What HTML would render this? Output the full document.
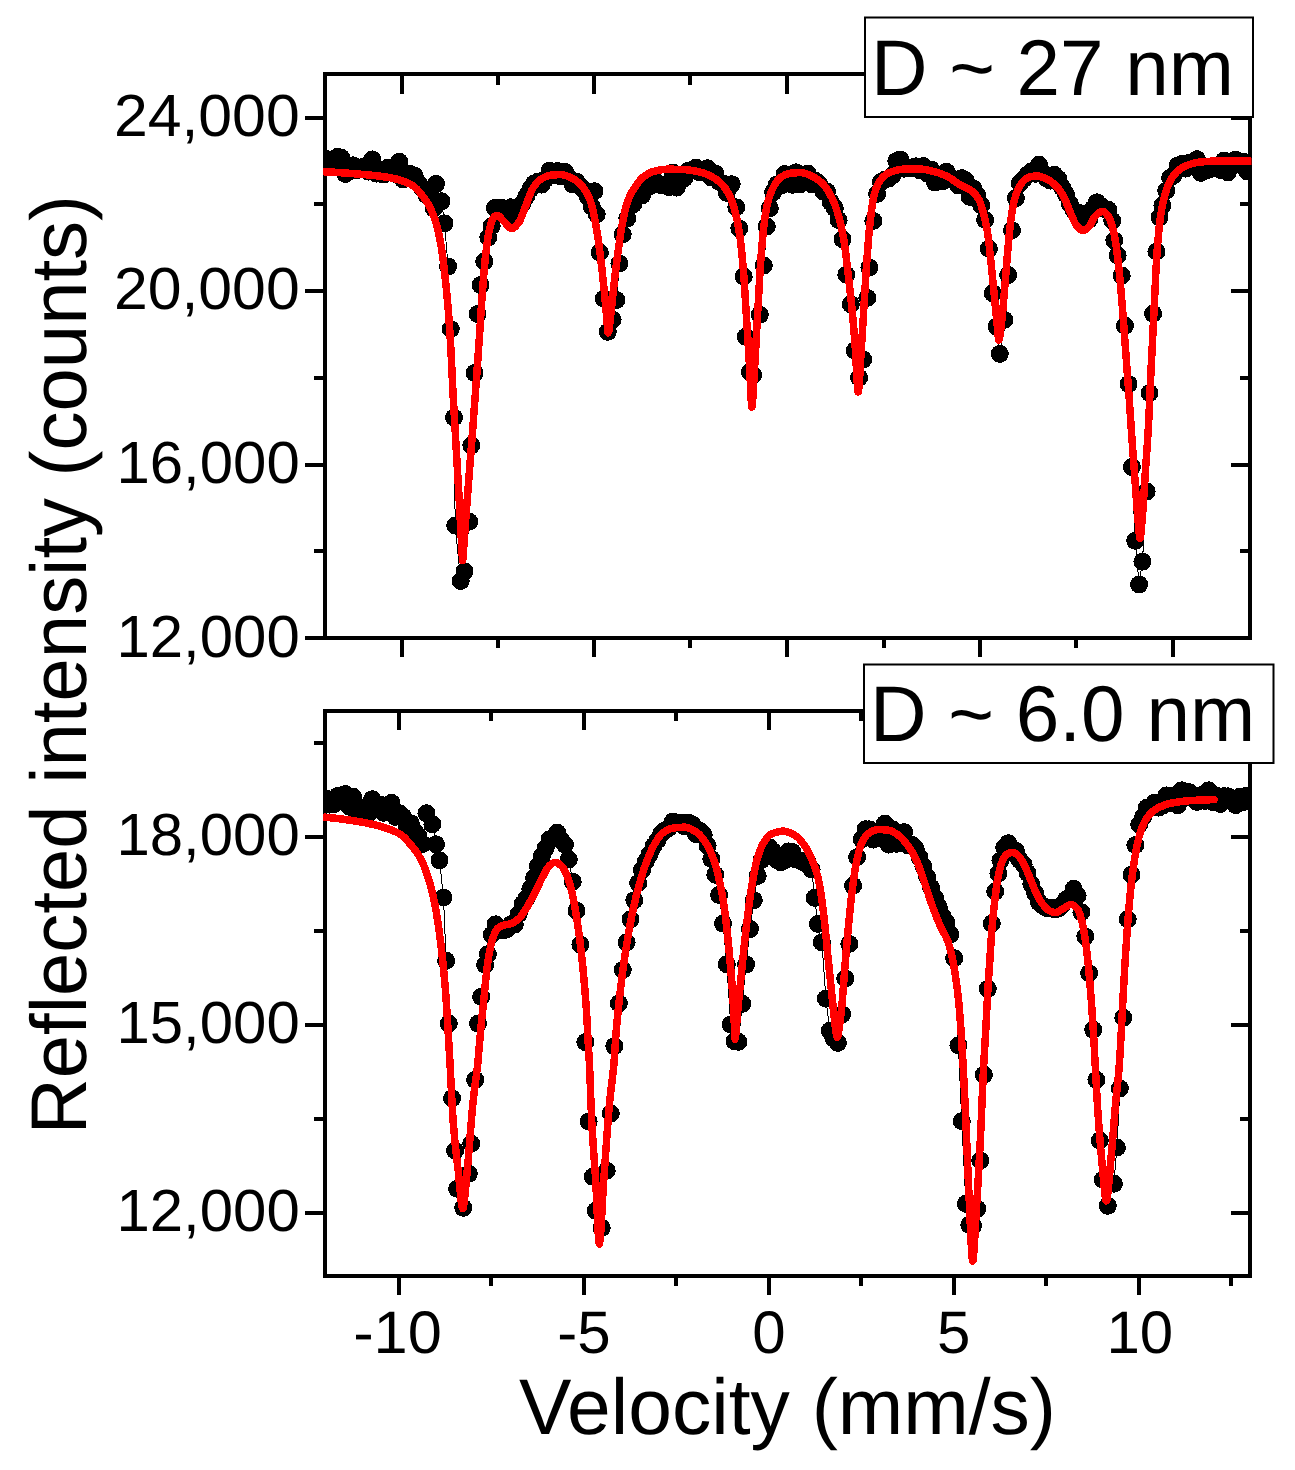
<!DOCTYPE html>
<html lang="en"><head><meta charset="utf-8"><title>Mossbauer spectra</title>
<style>html,body{margin:0;padding:0;background:#fff}svg{display:block}text{text-rendering:geometricPrecision}</style></head>
<body>
<svg width="1295" height="1470" viewBox="0 0 1295 1470" font-family="'Liberation Sans', sans-serif" fill="#000">
<rect width="1295" height="1470" fill="#fff"/>
<defs><clipPath id="cl-top"><rect x="323" y="72" width="928.5" height="568"/></clipPath><clipPath id="cl-bot"><rect x="323" y="709" width="928.5" height="569"/></clipPath></defs>
<g stroke="#000" stroke-width="4" fill="none" stroke-linecap="butt" shape-rendering="crispEdges">
<path d="M325,72 V640 M1250,72 V640 M323,74 H1252 M305,638 H1252"/>
<path d="M325,709 V1278 M1250,709 V1278 M323,711 H1252 M323,1276 H1252"/>
<path d="M402,74 V94 M402,638 V657 M594,74 V94 M594,638 V657 M787,74 V94 M787,638 V657 M980,74 V94 M980,638 V657 M1173,74 V94 M1173,638 V657 M498,74 V85 M498,638 V648 M690,74 V85 M690,638 V648 M884,74 V85 M884,638 V648 M1076,74 V85 M1076,638 V648 M305,118 H325 M1231,118 H1250 M305,291 H325 M1231,291 H1250 M305,465 H325 M1231,465 H1250 M314,204 H325 M1240,204 H1250 M314,378 H325 M1240,378 H1250 M314,551 H325 M1240,551 H1250"/>
<path d="M399,711 V730 M399,1276 V1295 M584,711 V730 M584,1276 V1295 M769,711 V730 M769,1276 V1295 M954,711 V730 M954,1276 V1295 M1139,711 V730 M1139,1276 V1295 M491,711 V721 M491,1276 V1286 M676,711 V721 M676,1276 V1286 M861,711 V721 M861,1276 V1286 M1046,711 V721 M1046,1276 V1286 M1231,711 V721 M1231,1276 V1286 M305,837 H325 M1231,837 H1250 M305,1025 H325 M1231,1025 H1250 M305,1213 H325 M1231,1213 H1250 M314,743 H325 M1240,743 H1250 M314,931 H325 M1240,931 H1250 M314,1119 H325 M1240,1119 H1250"/>
</g>
<g id="data-top" clip-path="url(#cl-top)" shape-rendering="crispEdges">
<path d="M326.0,159.0 L329.9,162.1 L333.7,163.7 L337.6,156.9 L341.4,157.9 L345.3,174.0 L349.1,171.2 L353.0,165.4 L356.8,170.3 L360.7,167.5 L364.5,166.3 L368.4,171.6 L372.2,159.4 L376.1,173.6 L380.0,173.7 L383.8,174.4 L387.7,167.9 L391.5,170.3 L395.4,174.0 L399.2,161.8 L403.1,179.5 L406.9,173.9 L410.8,174.1 L414.6,175.7 L418.5,183.3 L422.4,188.5 L426.2,194.7 L430.1,198.1 L433.9,208.5 L436.0,184.0 L441.5,201.3 L444.5,223.4 L448.1,266.5 L450.8,329.0 L454.0,417.5 L455.2,525.6 L460.7,581.0 L464.5,571.4 L469.2,521.6 L471.3,445.4 L474.6,373.0 L477.6,314.0 L480.6,285.0 L484.3,261.5 L488.3,237.4 L491.7,226.0 L494.9,208.0 L499.4,208.0 L503.3,208.1 L507.1,213.1 L511.0,207.3 L514.9,217.7 L518.7,207.9 L522.6,203.4 L526.4,196.1 L530.3,189.1 L534.1,183.5 L538.0,181.5 L541.8,184.6 L545.7,178.8 L549.5,170.7 L553.4,175.0 L557.2,171.0 L561.1,176.5 L565.0,172.0 L568.8,177.7 L572.7,184.4 L576.5,181.5 L580.4,186.6 L584.2,189.9 L588.1,197.4 L591.9,206.8 L594.5,191.2 L596.7,214.3 L599.8,252.5 L603.8,298.7 L607.8,331.8 L612.6,319.8 L616.5,300.0 L619.4,263.5 L622.7,234.4 L627.3,218.4 L633.3,204.3 L638.2,192.6 L642.0,195.5 L645.9,187.1 L649.8,186.1 L653.6,178.7 L657.5,184.1 L661.3,185.2 L665.2,184.9 L669.0,187.1 L672.9,172.7 L676.7,187.6 L680.6,177.7 L684.4,178.2 L688.3,170.7 L692.1,170.2 L696.0,167.5 L699.9,172.5 L703.7,172.7 L707.6,168.2 L711.4,177.5 L715.3,173.6 L719.1,181.9 L723.0,183.6 L726.8,192.9 L731.7,184.2 L736.3,207.3 L739.3,228.4 L743.7,276.6 L745.7,336.8 L750.0,372.0 L753.2,375.0 L759.8,314.7 L763.8,265.5 L766.8,226.4 L769.8,208.3 L773.1,192.3 L776.9,184.4 L780.8,185.8 L784.6,174.1 L788.5,177.4 L792.4,184.8 L796.2,172.3 L800.1,184.2 L803.9,182.5 L807.8,173.6 L811.6,184.2 L815.5,180.8 L819.3,184.3 L823.2,191.4 L827.0,191.5 L830.9,202.3 L834.8,208.3 L838.6,220.1 L842.5,239.2 L846.3,274.7 L850.8,304.2 L854.8,350.6 L859.1,377.6 L863.2,359.5 L867.3,297.9 L869.4,267.5 L873.3,220.9 L877.1,193.9 L881.0,182.1 L884.9,179.6 L888.7,178.6 L892.6,175.2 L896.4,161.0 L900.3,159.5 L904.1,168.7 L908.0,167.7 L911.8,168.5 L915.7,166.3 L919.5,170.2 L923.4,166.1 L927.2,173.5 L931.1,169.5 L935.0,182.6 L938.8,179.0 L942.7,181.3 L946.5,171.8 L950.4,177.4 L954.2,181.0 L958.1,185.3 L961.9,178.2 L965.8,180.4 L969.6,196.9 L973.5,188.6 L977.4,195.6 L981.2,205.3 L985.1,219.9 L988.9,248.7 L992.8,293.2 L996.6,326.6 L999.8,353.9 L1004.3,319.9 L1008.2,275.0 L1012.0,230.2 L1015.9,198.2 L1019.8,183.5 L1023.6,179.1 L1027.5,174.8 L1031.3,171.5 L1035.2,173.8 L1039.0,164.8 L1042.9,173.0 L1046.7,178.6 L1050.6,180.6 L1054.4,174.8 L1058.3,178.7 L1062.1,187.5 L1066.0,194.4 L1069.9,203.7 L1073.7,210.3 L1077.6,212.2 L1081.4,222.5 L1085.3,213.6 L1089.1,219.6 L1093.0,208.6 L1096.8,202.3 L1100.7,205.8 L1104.5,209.0 L1108.4,209.9 L1112.2,220.6 L1114.3,240.4 L1117.7,255.5 L1121.7,275.6 L1125.0,325.8 L1128.6,384.0 L1131.9,467.0 L1135.2,540.8 L1139.1,584.5 L1142.4,561.7 L1146.6,491.5 L1149.5,393.0 L1153.1,313.7 L1156.5,251.5 L1159.5,217.3 L1162.4,205.4 L1166.2,190.7 L1170.1,177.8 L1173.9,175.0 L1177.8,165.5 L1181.6,164.1 L1185.5,168.6 L1189.3,162.9 L1193.2,162.6 L1197.0,159.2 L1200.9,172.9 L1204.8,167.8 L1208.6,169.8 L1212.5,168.2 L1216.3,165.9 L1220.2,169.9 L1224.0,160.5 L1227.9,172.3 L1231.7,166.0 L1235.6,159.7 L1239.4,161.6 L1243.3,161.7 L1247.1,171.4 L1251.0,164.0" fill="none" stroke="#000" stroke-width="1"/>
<g><circle cx="326.0" cy="159.0" r="9"/><circle cx="329.9" cy="162.1" r="9"/><circle cx="333.7" cy="163.7" r="9"/><circle cx="337.6" cy="156.9" r="9"/><circle cx="341.4" cy="157.9" r="9"/><circle cx="345.3" cy="174.0" r="9"/><circle cx="349.1" cy="171.2" r="9"/><circle cx="353.0" cy="165.4" r="9"/><circle cx="356.8" cy="170.3" r="9"/><circle cx="360.7" cy="167.5" r="9"/><circle cx="364.5" cy="166.3" r="9"/><circle cx="368.4" cy="171.6" r="9"/><circle cx="372.2" cy="159.4" r="9"/><circle cx="376.1" cy="173.6" r="9"/><circle cx="380.0" cy="173.7" r="9"/><circle cx="383.8" cy="174.4" r="9"/><circle cx="387.7" cy="167.9" r="9"/><circle cx="391.5" cy="170.3" r="9"/><circle cx="395.4" cy="174.0" r="9"/><circle cx="399.2" cy="161.8" r="9"/><circle cx="403.1" cy="179.5" r="9"/><circle cx="406.9" cy="173.9" r="9"/><circle cx="410.8" cy="174.1" r="9"/><circle cx="414.6" cy="175.7" r="9"/><circle cx="418.5" cy="183.3" r="9"/><circle cx="422.4" cy="188.5" r="9"/><circle cx="426.2" cy="194.7" r="9"/><circle cx="430.1" cy="198.1" r="9"/><circle cx="433.9" cy="208.5" r="9"/><circle cx="436.0" cy="184.0" r="9"/><circle cx="441.5" cy="201.3" r="9"/><circle cx="444.5" cy="223.4" r="9"/><circle cx="448.1" cy="266.5" r="9"/><circle cx="450.8" cy="329.0" r="9"/><circle cx="454.0" cy="417.5" r="9"/><circle cx="455.2" cy="525.6" r="9"/><circle cx="460.7" cy="581.0" r="9"/><circle cx="464.5" cy="571.4" r="9"/><circle cx="469.2" cy="521.6" r="9"/><circle cx="471.3" cy="445.4" r="9"/><circle cx="474.6" cy="373.0" r="9"/><circle cx="477.6" cy="314.0" r="9"/><circle cx="480.6" cy="285.0" r="9"/><circle cx="484.3" cy="261.5" r="9"/><circle cx="488.3" cy="237.4" r="9"/><circle cx="491.7" cy="226.0" r="9"/><circle cx="494.9" cy="208.0" r="9"/><circle cx="499.4" cy="208.0" r="9"/><circle cx="503.3" cy="208.1" r="9"/><circle cx="507.1" cy="213.1" r="9"/><circle cx="511.0" cy="207.3" r="9"/><circle cx="514.9" cy="217.7" r="9"/><circle cx="518.7" cy="207.9" r="9"/><circle cx="522.6" cy="203.4" r="9"/><circle cx="526.4" cy="196.1" r="9"/><circle cx="530.3" cy="189.1" r="9"/><circle cx="534.1" cy="183.5" r="9"/><circle cx="538.0" cy="181.5" r="9"/><circle cx="541.8" cy="184.6" r="9"/><circle cx="545.7" cy="178.8" r="9"/><circle cx="549.5" cy="170.7" r="9"/><circle cx="553.4" cy="175.0" r="9"/><circle cx="557.2" cy="171.0" r="9"/><circle cx="561.1" cy="176.5" r="9"/><circle cx="565.0" cy="172.0" r="9"/><circle cx="568.8" cy="177.7" r="9"/><circle cx="572.7" cy="184.4" r="9"/><circle cx="576.5" cy="181.5" r="9"/><circle cx="580.4" cy="186.6" r="9"/><circle cx="584.2" cy="189.9" r="9"/><circle cx="588.1" cy="197.4" r="9"/><circle cx="591.9" cy="206.8" r="9"/><circle cx="594.5" cy="191.2" r="9"/><circle cx="596.7" cy="214.3" r="9"/><circle cx="599.8" cy="252.5" r="9"/><circle cx="603.8" cy="298.7" r="9"/><circle cx="607.8" cy="331.8" r="9"/><circle cx="612.6" cy="319.8" r="9"/><circle cx="616.5" cy="300.0" r="9"/><circle cx="619.4" cy="263.5" r="9"/><circle cx="622.7" cy="234.4" r="9"/><circle cx="627.3" cy="218.4" r="9"/><circle cx="633.3" cy="204.3" r="9"/><circle cx="638.2" cy="192.6" r="9"/><circle cx="642.0" cy="195.5" r="9"/><circle cx="645.9" cy="187.1" r="9"/><circle cx="649.8" cy="186.1" r="9"/><circle cx="653.6" cy="178.7" r="9"/><circle cx="657.5" cy="184.1" r="9"/><circle cx="661.3" cy="185.2" r="9"/><circle cx="665.2" cy="184.9" r="9"/><circle cx="669.0" cy="187.1" r="9"/><circle cx="672.9" cy="172.7" r="9"/><circle cx="676.7" cy="187.6" r="9"/><circle cx="680.6" cy="177.7" r="9"/><circle cx="684.4" cy="178.2" r="9"/><circle cx="688.3" cy="170.7" r="9"/><circle cx="692.1" cy="170.2" r="9"/><circle cx="696.0" cy="167.5" r="9"/><circle cx="699.9" cy="172.5" r="9"/><circle cx="703.7" cy="172.7" r="9"/><circle cx="707.6" cy="168.2" r="9"/><circle cx="711.4" cy="177.5" r="9"/><circle cx="715.3" cy="173.6" r="9"/><circle cx="719.1" cy="181.9" r="9"/><circle cx="723.0" cy="183.6" r="9"/><circle cx="726.8" cy="192.9" r="9"/><circle cx="731.7" cy="184.2" r="9"/><circle cx="736.3" cy="207.3" r="9"/><circle cx="739.3" cy="228.4" r="9"/><circle cx="743.7" cy="276.6" r="9"/><circle cx="745.7" cy="336.8" r="9"/><circle cx="750.0" cy="372.0" r="9"/><circle cx="753.2" cy="375.0" r="9"/><circle cx="759.8" cy="314.7" r="9"/><circle cx="763.8" cy="265.5" r="9"/><circle cx="766.8" cy="226.4" r="9"/><circle cx="769.8" cy="208.3" r="9"/><circle cx="773.1" cy="192.3" r="9"/><circle cx="776.9" cy="184.4" r="9"/><circle cx="780.8" cy="185.8" r="9"/><circle cx="784.6" cy="174.1" r="9"/><circle cx="788.5" cy="177.4" r="9"/><circle cx="792.4" cy="184.8" r="9"/><circle cx="796.2" cy="172.3" r="9"/><circle cx="800.1" cy="184.2" r="9"/><circle cx="803.9" cy="182.5" r="9"/><circle cx="807.8" cy="173.6" r="9"/><circle cx="811.6" cy="184.2" r="9"/><circle cx="815.5" cy="180.8" r="9"/><circle cx="819.3" cy="184.3" r="9"/><circle cx="823.2" cy="191.4" r="9"/><circle cx="827.0" cy="191.5" r="9"/><circle cx="830.9" cy="202.3" r="9"/><circle cx="834.8" cy="208.3" r="9"/><circle cx="838.6" cy="220.1" r="9"/><circle cx="842.5" cy="239.2" r="9"/><circle cx="846.3" cy="274.7" r="9"/><circle cx="850.8" cy="304.2" r="9"/><circle cx="854.8" cy="350.6" r="9"/><circle cx="859.1" cy="377.6" r="9"/><circle cx="863.2" cy="359.5" r="9"/><circle cx="867.3" cy="297.9" r="9"/><circle cx="869.4" cy="267.5" r="9"/><circle cx="873.3" cy="220.9" r="9"/><circle cx="877.1" cy="193.9" r="9"/><circle cx="881.0" cy="182.1" r="9"/><circle cx="884.9" cy="179.6" r="9"/><circle cx="888.7" cy="178.6" r="9"/><circle cx="892.6" cy="175.2" r="9"/><circle cx="896.4" cy="161.0" r="9"/><circle cx="900.3" cy="159.5" r="9"/><circle cx="904.1" cy="168.7" r="9"/><circle cx="908.0" cy="167.7" r="9"/><circle cx="911.8" cy="168.5" r="9"/><circle cx="915.7" cy="166.3" r="9"/><circle cx="919.5" cy="170.2" r="9"/><circle cx="923.4" cy="166.1" r="9"/><circle cx="927.2" cy="173.5" r="9"/><circle cx="931.1" cy="169.5" r="9"/><circle cx="935.0" cy="182.6" r="9"/><circle cx="938.8" cy="179.0" r="9"/><circle cx="942.7" cy="181.3" r="9"/><circle cx="946.5" cy="171.8" r="9"/><circle cx="950.4" cy="177.4" r="9"/><circle cx="954.2" cy="181.0" r="9"/><circle cx="958.1" cy="185.3" r="9"/><circle cx="961.9" cy="178.2" r="9"/><circle cx="965.8" cy="180.4" r="9"/><circle cx="969.6" cy="196.9" r="9"/><circle cx="973.5" cy="188.6" r="9"/><circle cx="977.4" cy="195.6" r="9"/><circle cx="981.2" cy="205.3" r="9"/><circle cx="985.1" cy="219.9" r="9"/><circle cx="988.9" cy="248.7" r="9"/><circle cx="992.8" cy="293.2" r="9"/><circle cx="996.6" cy="326.6" r="9"/><circle cx="999.8" cy="353.9" r="9"/><circle cx="1004.3" cy="319.9" r="9"/><circle cx="1008.2" cy="275.0" r="9"/><circle cx="1012.0" cy="230.2" r="9"/><circle cx="1015.9" cy="198.2" r="9"/><circle cx="1019.8" cy="183.5" r="9"/><circle cx="1023.6" cy="179.1" r="9"/><circle cx="1027.5" cy="174.8" r="9"/><circle cx="1031.3" cy="171.5" r="9"/><circle cx="1035.2" cy="173.8" r="9"/><circle cx="1039.0" cy="164.8" r="9"/><circle cx="1042.9" cy="173.0" r="9"/><circle cx="1046.7" cy="178.6" r="9"/><circle cx="1050.6" cy="180.6" r="9"/><circle cx="1054.4" cy="174.8" r="9"/><circle cx="1058.3" cy="178.7" r="9"/><circle cx="1062.1" cy="187.5" r="9"/><circle cx="1066.0" cy="194.4" r="9"/><circle cx="1069.9" cy="203.7" r="9"/><circle cx="1073.7" cy="210.3" r="9"/><circle cx="1077.6" cy="212.2" r="9"/><circle cx="1081.4" cy="222.5" r="9"/><circle cx="1085.3" cy="213.6" r="9"/><circle cx="1089.1" cy="219.6" r="9"/><circle cx="1093.0" cy="208.6" r="9"/><circle cx="1096.8" cy="202.3" r="9"/><circle cx="1100.7" cy="205.8" r="9"/><circle cx="1104.5" cy="209.0" r="9"/><circle cx="1108.4" cy="209.9" r="9"/><circle cx="1112.2" cy="220.6" r="9"/><circle cx="1114.3" cy="240.4" r="9"/><circle cx="1117.7" cy="255.5" r="9"/><circle cx="1121.7" cy="275.6" r="9"/><circle cx="1125.0" cy="325.8" r="9"/><circle cx="1128.6" cy="384.0" r="9"/><circle cx="1131.9" cy="467.0" r="9"/><circle cx="1135.2" cy="540.8" r="9"/><circle cx="1139.1" cy="584.5" r="9"/><circle cx="1142.4" cy="561.7" r="9"/><circle cx="1146.6" cy="491.5" r="9"/><circle cx="1149.5" cy="393.0" r="9"/><circle cx="1153.1" cy="313.7" r="9"/><circle cx="1156.5" cy="251.5" r="9"/><circle cx="1159.5" cy="217.3" r="9"/><circle cx="1162.4" cy="205.4" r="9"/><circle cx="1166.2" cy="190.7" r="9"/><circle cx="1170.1" cy="177.8" r="9"/><circle cx="1173.9" cy="175.0" r="9"/><circle cx="1177.8" cy="165.5" r="9"/><circle cx="1181.6" cy="164.1" r="9"/><circle cx="1185.5" cy="168.6" r="9"/><circle cx="1189.3" cy="162.9" r="9"/><circle cx="1193.2" cy="162.6" r="9"/><circle cx="1197.0" cy="159.2" r="9"/><circle cx="1200.9" cy="172.9" r="9"/><circle cx="1204.8" cy="167.8" r="9"/><circle cx="1208.6" cy="169.8" r="9"/><circle cx="1212.5" cy="168.2" r="9"/><circle cx="1216.3" cy="165.9" r="9"/><circle cx="1220.2" cy="169.9" r="9"/><circle cx="1224.0" cy="160.5" r="9"/><circle cx="1227.9" cy="172.3" r="9"/><circle cx="1231.7" cy="166.0" r="9"/><circle cx="1235.6" cy="159.7" r="9"/><circle cx="1239.4" cy="161.6" r="9"/><circle cx="1243.3" cy="161.7" r="9"/><circle cx="1247.1" cy="171.4" r="9"/><circle cx="1251.0" cy="164.0" r="9"/></g>
<path d="M325.0,171.8 L326.0,171.8 L327.0,171.9 L328.0,171.9 L329.0,172.0 L330.0,172.0 L331.0,172.1 L332.0,172.1 L333.0,172.2 L334.0,172.2 L335.0,172.3 L336.0,172.4 L337.0,172.4 L338.0,172.5 L339.0,172.5 L340.0,172.6 L341.0,172.7 L342.0,172.8 L343.0,172.8 L344.0,172.9 L345.0,173.0 L346.0,173.0 L347.0,173.1 L348.0,173.2 L349.0,173.3 L350.0,173.3 L351.0,173.4 L352.0,173.5 L353.0,173.6 L354.0,173.7 L355.0,173.8 L356.0,173.8 L357.0,173.9 L358.0,174.0 L359.0,174.1 L360.0,174.2 L360.2,174.2 L361.0,174.3 L362.0,174.4 L363.0,174.4 L364.0,174.5 L365.0,174.6 L366.0,174.7 L367.0,174.8 L368.0,174.9 L369.0,175.0 L370.0,175.1 L371.0,175.2 L372.0,175.3 L373.0,175.4 L374.0,175.5 L375.0,175.6 L376.0,175.7 L377.0,175.9 L378.0,176.0 L379.0,176.1 L380.0,176.2 L381.0,176.4 L382.0,176.5 L383.0,176.6 L384.0,176.8 L385.0,176.9 L386.0,177.1 L387.0,177.2 L388.0,177.4 L389.0,177.6 L390.0,177.7 L390.3,177.8 L391.0,177.9 L392.0,178.1 L393.0,178.3 L394.0,178.5 L395.0,178.8 L396.0,179.0 L397.0,179.2 L398.0,179.5 L399.0,179.8 L400.0,180.1 L401.0,180.4 L402.0,180.7 L403.0,181.1 L404.0,181.4 L405.0,181.8 L406.0,182.2 L407.0,182.6 L408.0,183.1 L409.0,183.5 L410.0,184.0 L410.4,184.2 L411.0,184.5 L412.0,185.1 L413.0,185.8 L414.0,186.6 L415.0,187.4 L416.0,188.3 L417.0,189.3 L418.0,190.4 L419.0,191.5 L420.0,192.7 L421.0,193.9 L422.0,195.1 L423.0,196.4 L424.0,197.8 L424.4,198.3 L425.0,199.1 L426.0,200.6 L427.0,202.2 L428.0,203.9 L429.0,205.7 L430.0,207.7 L431.0,209.8 L432.0,212.1 L433.0,214.5 L434.0,217.1 L434.5,218.4 L435.0,219.8 L436.0,223.0 L437.0,226.5 L438.0,230.5 L439.0,234.9 L440.0,239.8 L440.5,242.4 L441.0,245.2 L442.0,251.6 L443.0,259.0 L444.0,267.2 L445.0,276.0 L445.5,280.6 L446.0,285.4 L447.0,295.6 L448.0,306.9 L449.0,319.6 L449.8,330.8 L450.0,333.8 L451.0,351.7 L452.0,372.1 L453.0,392.5 L453.4,400.0 L454.0,410.7 L455.0,427.9 L456.0,444.9 L456.3,450.0 L457.0,462.0 L458.0,479.1 L459.0,496.5 L459.2,500.0 L460.0,514.5 L461.0,532.9 L461.4,540.0 L462.0,552.9 L462.6,560.5 L463.0,558.3 L464.0,542.9 L464.2,540.0 L465.0,529.4 L466.0,516.0 L467.0,502.6 L467.2,500.0 L468.0,489.6 L469.0,476.9 L470.0,464.1 L471.0,451.3 L471.1,450.0 L472.0,438.3 L473.0,425.3 L474.0,412.1 L474.9,400.0 L475.0,398.6 L476.0,385.0 L477.0,371.2 L478.0,357.2 L479.0,342.9 L479.2,340.0 L480.0,327.8 L481.0,312.1 L482.0,297.4 L482.2,294.7 L483.0,284.3 L484.0,272.0 L485.0,261.0 L485.7,254.5 L486.0,252.0 L487.0,244.2 L488.0,237.3 L489.0,231.8 L489.3,230.4 L490.0,227.4 L491.0,223.5 L492.0,220.4 L493.0,218.4 L494.0,217.2 L495.0,216.2 L496.0,215.5 L496.9,215.3 L497.0,215.3 L498.0,215.6 L499.0,216.2 L500.0,217.1 L501.0,218.2 L502.0,219.4 L503.0,220.6 L504.0,221.7 L504.7,222.4 L505.0,222.7 L506.0,223.7 L507.0,224.8 L508.0,225.9 L509.0,226.9 L510.0,227.7 L511.0,228.3 L511.8,228.4 L512.0,228.4 L513.0,228.1 L514.0,227.6 L515.0,226.8 L516.0,225.8 L517.0,224.6 L518.0,223.4 L518.8,222.4 L519.0,222.1 L520.0,220.4 L521.0,218.2 L522.0,215.7 L523.0,213.0 L524.0,210.3 L524.8,208.3 L525.0,207.8 L526.0,205.2 L527.0,202.5 L528.0,199.7 L529.0,197.0 L530.0,194.3 L531.0,191.9 L532.0,189.8 L532.9,188.2 L533.0,188.0 L534.0,186.5 L535.0,185.1 L536.0,183.8 L537.0,182.6 L538.0,181.6 L539.0,180.6 L540.0,179.8 L540.9,179.2 L541.0,179.1 L542.0,178.6 L543.0,178.0 L544.0,177.5 L545.0,177.0 L546.0,176.5 L547.0,176.1 L548.0,175.8 L549.0,175.5 L550.0,175.3 L550.9,175.2 L551.0,175.2 L552.0,175.1 L553.0,175.0 L554.0,174.9 L555.0,174.8 L556.0,174.8 L557.0,174.7 L558.0,174.7 L559.0,174.6 L560.0,174.6 L561.0,174.6 L562.0,174.6 L563.0,174.8 L564.0,175.0 L565.0,175.3 L566.0,175.6 L567.0,176.0 L568.0,176.4 L569.0,176.8 L570.0,177.3 L571.0,177.7 L572.0,178.2 L573.0,178.7 L574.0,179.3 L575.0,179.9 L576.0,180.6 L577.0,181.3 L578.0,182.2 L579.0,183.1 L580.0,184.0 L581.0,185.0 L582.0,186.1 L582.1,186.2 L583.0,187.3 L584.0,188.6 L585.0,190.0 L586.0,191.6 L587.0,193.4 L588.0,195.4 L589.0,197.6 L590.0,200.0 L590.1,200.3 L591.0,202.9 L592.0,206.5 L593.0,210.8 L594.0,215.5 L595.0,220.6 L596.0,225.9 L596.1,226.4 L597.0,231.6 L598.0,238.2 L599.0,245.3 L600.0,252.9 L600.2,254.5 L601.0,261.0 L602.0,269.7 L603.0,278.9 L604.0,288.6 L604.2,290.6 L605.0,299.0 L606.0,310.2 L606.6,316.7 L607.0,321.6 L608.0,332.3 L608.2,332.8 L609.0,330.2 L610.0,322.0 L611.0,312.4 L611.2,310.7 L612.0,303.6 L613.0,293.9 L614.0,284.4 L614.2,282.6 L615.0,275.7 L616.0,267.4 L617.0,259.5 L618.0,251.9 L618.2,250.5 L619.0,244.8 L620.0,237.8 L621.0,231.3 L622.0,225.5 L622.2,224.4 L623.0,220.2 L624.0,215.3 L625.0,210.7 L626.0,206.6 L627.0,203.2 L627.3,202.3 L628.0,200.4 L629.0,198.0 L630.0,195.7 L631.0,193.7 L632.0,191.9 L633.0,190.2 L634.0,188.7 L634.3,188.2 L635.0,187.1 L636.0,185.7 L637.0,184.2 L638.0,182.9 L639.0,181.5 L640.0,180.3 L641.0,179.2 L642.0,178.1 L643.0,177.2 L644.0,176.4 L644.3,176.2 L645.0,175.7 L646.0,175.1 L647.0,174.4 L648.0,173.8 L649.0,173.3 L650.0,172.8 L651.0,172.3 L652.0,171.9 L653.0,171.6 L654.0,171.3 L654.4,171.2 L655.0,171.1 L656.0,170.8 L657.0,170.6 L658.0,170.4 L659.0,170.2 L660.0,170.0 L661.0,169.9 L662.0,169.7 L663.0,169.6 L664.0,169.5 L665.0,169.4 L666.0,169.3 L667.0,169.2 L668.0,169.2 L668.4,169.2 L669.0,169.2 L670.0,169.2 L671.0,169.2 L672.0,169.2 L673.0,169.2 L674.0,169.3 L675.0,169.3 L676.0,169.3 L677.0,169.3 L678.0,169.4 L679.0,169.4 L680.0,169.4 L681.0,169.5 L682.0,169.5 L683.0,169.5 L684.0,169.6 L684.5,169.6 L685.0,169.6 L686.0,169.7 L687.0,169.8 L688.0,169.9 L689.0,170.0 L690.0,170.1 L691.0,170.3 L692.0,170.4 L693.0,170.6 L694.0,170.8 L695.0,171.0 L696.0,171.2 L697.0,171.4 L698.0,171.6 L699.0,171.8 L700.0,172.1 L700.6,172.2 L701.0,172.3 L702.0,172.6 L703.0,172.9 L704.0,173.2 L705.0,173.6 L706.0,174.0 L707.0,174.4 L708.0,174.9 L709.0,175.3 L710.0,175.8 L711.0,176.3 L712.0,176.9 L712.6,177.2 L713.0,177.4 L714.0,178.0 L715.0,178.6 L716.0,179.3 L717.0,180.0 L718.0,180.8 L719.0,181.6 L720.0,182.5 L721.0,183.5 L722.0,184.5 L722.7,185.2 L723.0,185.5 L724.0,186.7 L725.0,188.0 L726.0,189.5 L727.0,191.1 L728.0,192.8 L729.0,194.7 L730.0,196.8 L730.7,198.3 L731.0,199.0 L732.0,201.5 L733.0,204.5 L734.0,207.8 L735.0,211.4 L736.0,215.4 L736.7,218.4 L737.0,219.7 L738.0,224.7 L739.0,230.5 L740.0,237.2 L740.7,242.4 L741.0,244.9 L742.0,254.5 L743.0,265.9 L743.7,274.6 L744.0,278.5 L745.0,293.3 L746.0,309.5 L746.7,320.8 L747.0,325.5 L748.0,341.4 L749.0,357.6 L749.8,371.0 L750.0,374.8 L751.0,397.7 L751.8,407.1 L752.0,406.7 L753.0,395.7 L754.0,377.7 L754.4,371.0 L755.0,361.2 L756.0,343.4 L757.0,325.0 L757.8,310.7 L758.0,307.2 L759.0,289.5 L760.0,272.4 L760.8,260.5 L761.0,257.8 L762.0,245.0 L763.0,233.7 L763.8,226.4 L764.0,224.8 L765.0,217.4 L766.0,211.0 L767.0,205.7 L767.8,202.3 L768.0,201.6 L769.0,198.1 L770.0,195.0 L771.0,192.3 L772.0,189.9 L773.0,187.9 L773.9,186.2 L774.0,186.0 L775.0,184.3 L776.0,182.7 L777.0,181.3 L778.0,180.0 L779.0,178.8 L780.0,177.9 L780.9,177.2 L781.0,177.1 L782.0,176.5 L783.0,176.0 L784.0,175.4 L785.0,174.9 L786.0,174.5 L787.0,174.1 L788.0,173.8 L789.0,173.5 L790.0,173.3 L790.9,173.2 L791.0,173.2 L792.0,173.1 L793.0,173.0 L794.0,172.9 L795.0,172.8 L796.0,172.8 L797.0,172.7 L798.0,172.7 L799.0,172.6 L800.0,172.6 L801.0,172.6 L802.0,172.6 L803.0,172.8 L804.0,173.0 L805.0,173.3 L806.0,173.6 L807.0,174.0 L808.0,174.4 L809.0,174.8 L810.0,175.3 L811.0,175.7 L812.0,176.2 L813.0,176.7 L814.0,177.2 L815.0,177.8 L816.0,178.4 L817.0,179.0 L818.0,179.7 L819.0,180.5 L820.0,181.3 L821.0,182.2 L822.0,183.1 L822.1,183.2 L823.0,184.1 L824.0,185.2 L825.0,186.5 L826.0,187.8 L827.0,189.3 L828.0,190.8 L829.0,192.5 L830.0,194.3 L831.0,196.1 L832.0,198.1 L832.1,198.3 L833.0,200.2 L834.0,202.5 L835.0,205.1 L836.0,207.9 L837.0,211.0 L838.0,214.2 L839.0,217.7 L839.2,218.4 L840.0,221.4 L841.0,225.6 L842.0,230.3 L843.0,235.5 L844.0,241.2 L844.2,242.4 L845.0,247.8 L846.0,255.6 L847.0,264.2 L848.0,272.9 L848.2,274.6 L849.0,281.4 L850.0,290.0 L851.0,298.9 L852.0,308.6 L852.2,310.7 L853.0,319.4 L854.0,331.4 L855.0,344.2 L855.2,346.9 L856.0,360.6 L857.0,380.0 L858.0,391.6 L858.2,392.0 L859.0,387.1 L860.0,371.8 L861.0,354.0 L861.2,350.9 L862.0,338.5 L863.0,322.0 L864.0,305.5 L864.3,300.7 L865.0,289.5 L866.0,273.4 L867.0,258.5 L867.3,254.5 L868.0,245.5 L869.0,233.4 L870.0,223.0 L870.3,220.4 L871.0,214.6 L872.0,207.0 L873.0,200.5 L874.0,195.5 L874.3,194.3 L875.0,191.9 L876.0,188.9 L877.0,186.2 L878.0,184.0 L879.0,182.1 L880.0,180.6 L880.3,180.2 L881.0,179.4 L882.0,178.2 L883.0,177.2 L884.0,176.2 L885.0,175.4 L886.0,174.6 L887.0,173.9 L888.0,173.3 L889.0,172.8 L890.0,172.3 L890.4,172.2 L891.0,172.0 L892.0,171.7 L893.0,171.3 L894.0,171.0 L895.0,170.7 L896.0,170.4 L897.0,170.2 L898.0,170.0 L899.0,169.7 L900.0,169.6 L901.0,169.4 L902.0,169.3 L903.0,169.2 L904.0,169.2 L904.4,169.2 L905.0,169.2 L906.0,169.2 L907.0,169.2 L908.0,169.2 L909.0,169.2 L910.0,169.2 L911.0,169.2 L912.0,169.2 L913.0,169.2 L914.0,169.2 L915.0,169.2 L916.0,169.2 L917.0,169.2 L918.0,169.2 L919.0,169.2 L920.0,169.2 L920.5,169.2 L921.0,169.2 L922.0,169.2 L923.0,169.3 L924.0,169.4 L925.0,169.5 L926.0,169.7 L927.0,169.9 L928.0,170.1 L929.0,170.3 L930.0,170.5 L931.0,170.8 L932.0,171.0 L933.0,171.3 L934.0,171.5 L935.0,171.8 L936.0,172.1 L936.5,172.2 L937.0,172.3 L938.0,172.6 L939.0,173.0 L940.0,173.3 L941.0,173.7 L942.0,174.1 L943.0,174.5 L944.0,175.0 L945.0,175.4 L946.0,175.9 L947.0,176.4 L948.0,176.9 L948.6,177.2 L949.0,177.4 L950.0,178.0 L951.0,178.6 L952.0,179.3 L953.0,180.0 L954.0,180.7 L955.0,181.4 L956.0,182.1 L957.0,182.9 L958.0,183.6 L959.0,184.2 L960.0,184.9 L960.6,185.2 L961.0,185.4 L962.0,185.9 L963.0,186.4 L964.0,186.8 L965.0,187.3 L966.0,187.7 L967.0,188.1 L968.0,188.6 L969.0,189.1 L970.0,189.7 L970.7,190.2 L971.0,190.4 L972.0,191.2 L973.0,192.0 L974.0,193.0 L975.0,194.1 L976.0,195.3 L977.0,196.6 L978.0,198.1 L978.7,199.3 L979.0,199.8 L980.0,202.1 L981.0,204.9 L982.0,208.2 L983.0,211.7 L983.7,214.3 L984.0,215.4 L985.0,219.6 L986.0,224.2 L987.0,229.6 L987.8,234.4 L988.0,235.7 L989.0,243.7 L990.0,252.9 L990.8,260.5 L991.0,262.4 L992.0,272.2 L993.0,282.5 L993.8,290.6 L994.0,292.6 L995.0,302.7 L996.0,312.9 L996.8,320.8 L997.0,322.9 L998.0,335.1 L998.8,340.0 L999.0,339.9 L1000.0,335.6 L1001.0,327.7 L1001.8,320.8 L1002.0,319.1 L1003.0,308.6 L1004.0,296.4 L1004.8,286.6 L1005.0,284.2 L1006.0,272.0 L1007.0,259.7 L1007.8,250.5 L1008.0,248.3 L1009.0,237.2 L1010.0,227.0 L1010.8,220.4 L1011.0,219.0 L1012.0,212.4 L1013.0,206.6 L1014.0,201.8 L1014.9,198.3 L1015.0,198.0 L1016.0,194.8 L1017.0,192.0 L1018.0,189.5 L1019.0,187.3 L1020.0,185.5 L1020.9,184.2 L1021.0,184.1 L1022.0,182.8 L1023.0,181.6 L1024.0,180.5 L1025.0,179.6 L1026.0,178.7 L1027.0,178.0 L1028.0,177.5 L1028.9,177.2 L1029.0,177.2 L1030.0,176.9 L1031.0,176.7 L1032.0,176.5 L1033.0,176.3 L1034.0,176.2 L1035.0,176.1 L1036.0,176.0 L1037.0,176.0 L1038.0,176.1 L1039.0,176.2 L1040.0,176.4 L1041.0,176.7 L1042.0,177.1 L1043.0,177.4 L1044.0,177.9 L1045.0,178.3 L1046.0,178.7 L1047.0,179.2 L1048.0,179.7 L1049.0,180.3 L1050.0,180.9 L1051.0,181.6 L1052.0,182.4 L1053.0,183.2 L1054.0,184.0 L1055.0,184.9 L1055.1,185.0 L1056.0,185.9 L1057.0,186.9 L1058.0,188.1 L1059.0,189.3 L1060.0,190.7 L1061.0,192.2 L1062.0,193.7 L1063.0,195.3 L1063.1,195.5 L1064.0,197.2 L1065.0,199.3 L1066.0,201.7 L1067.0,204.2 L1068.0,206.8 L1069.0,209.3 L1070.0,211.8 L1071.0,214.1 L1071.1,214.3 L1072.0,216.3 L1073.0,218.6 L1074.0,220.9 L1075.0,223.0 L1076.0,224.8 L1077.0,226.2 L1077.2,226.4 L1078.0,227.2 L1079.0,228.1 L1080.0,229.0 L1081.0,229.7 L1082.0,230.2 L1083.0,230.4 L1083.2,230.4 L1084.0,230.3 L1085.0,229.9 L1086.0,229.3 L1087.0,228.5 L1088.0,227.5 L1089.0,226.6 L1089.2,226.4 L1090.0,225.4 L1091.0,223.8 L1092.0,221.8 L1093.0,219.8 L1094.0,217.9 L1095.0,216.5 L1095.2,216.3 L1096.0,215.5 L1097.0,214.5 L1098.0,213.5 L1099.0,212.7 L1100.0,212.0 L1101.0,211.5 L1102.0,211.3 L1102.3,211.3 L1103.0,211.4 L1104.0,211.8 L1105.0,212.6 L1106.0,213.5 L1107.0,214.7 L1108.0,215.9 L1108.3,216.3 L1109.0,217.4 L1110.0,219.6 L1111.0,222.3 L1112.0,225.6 L1113.0,229.2 L1113.3,230.4 L1114.0,233.5 L1115.0,238.9 L1116.0,245.2 L1117.0,252.3 L1117.3,254.5 L1118.0,260.1 L1119.0,269.3 L1120.0,279.4 L1120.3,282.6 L1121.0,290.5 L1122.0,302.8 L1123.0,315.6 L1123.4,320.8 L1124.0,328.6 L1125.0,342.0 L1126.0,355.5 L1126.4,360.9 L1127.0,368.9 L1128.0,382.0 L1129.0,395.5 L1129.4,401.1 L1130.0,410.0 L1131.0,425.0 L1132.0,439.2 L1133.0,452.9 L1134.0,466.5 L1135.0,480.0 L1136.0,494.1 L1137.0,508.0 L1138.0,520.0 L1139.0,531.5 L1140.0,538.4 L1140.1,538.5 L1141.0,533.5 L1142.0,521.3 L1142.5,515.0 L1143.0,508.6 L1144.0,493.7 L1145.0,477.7 L1145.5,470.0 L1146.0,462.7 L1147.0,448.6 L1148.0,433.6 L1148.5,425.0 L1149.0,415.0 L1150.0,392.1 L1150.5,381.0 L1151.0,370.7 L1152.0,350.8 L1152.5,340.8 L1153.0,330.8 L1154.0,310.7 L1154.5,300.7 L1155.0,290.2 L1156.0,269.2 L1156.5,260.5 L1157.0,253.1 L1158.0,239.8 L1159.0,228.8 L1159.5,224.4 L1160.0,220.5 L1161.0,213.4 L1162.0,207.5 L1163.0,202.5 L1163.5,200.3 L1164.0,198.3 L1165.0,194.5 L1166.0,191.2 L1167.0,188.1 L1168.0,185.5 L1169.0,183.2 L1169.5,182.2 L1170.0,181.3 L1171.0,179.5 L1172.0,177.9 L1173.0,176.4 L1174.0,175.0 L1175.0,173.8 L1176.0,172.7 L1177.0,171.7 L1177.6,171.2 L1178.0,170.9 L1179.0,170.1 L1180.0,169.3 L1181.0,168.6 L1182.0,167.9 L1183.0,167.3 L1184.0,166.7 L1185.0,166.2 L1186.0,165.7 L1187.0,165.3 L1187.6,165.1 L1188.0,165.0 L1189.0,164.6 L1190.0,164.3 L1191.0,164.0 L1192.0,163.7 L1193.0,163.4 L1194.0,163.1 L1195.0,162.9 L1196.0,162.7 L1197.0,162.5 L1198.0,162.3 L1199.0,162.2 L1199.7,162.1 L1200.0,162.1 L1201.0,162.0 L1202.0,161.9 L1203.0,161.8 L1204.0,161.7 L1205.0,161.6 L1206.0,161.5 L1207.0,161.4 L1208.0,161.4 L1209.0,161.3 L1210.0,161.3 L1211.0,161.2 L1212.0,161.2 L1213.0,161.1 L1214.0,161.1 L1215.0,161.1 L1215.7,161.1 L1216.0,161.1 L1217.0,161.1 L1218.0,161.1 L1219.0,161.1 L1220.0,161.1 L1221.0,161.1 L1222.0,161.1 L1223.0,161.1 L1224.0,161.1 L1225.0,161.1 L1226.0,161.1 L1227.0,161.1 L1228.0,161.1 L1229.0,161.1 L1230.0,161.1 L1231.0,161.1 L1232.0,161.1 L1233.0,161.1 L1234.0,161.1 L1235.0,161.1 L1235.8,161.1 L1236.0,161.1 L1237.0,161.1 L1238.0,161.1 L1239.0,161.1 L1240.0,161.1 L1241.0,161.1 L1242.0,161.1 L1243.0,161.1 L1244.0,161.1 L1245.0,161.1 L1246.0,161.1 L1247.0,161.1 L1248.0,161.1 L1249.0,161.1 L1250.0,161.1" fill="none" stroke="#ff0000" stroke-width="7.5" stroke-linejoin="round" stroke-linecap="round"/>
</g>
<g id="data-bot" clip-path="url(#cl-bot)" shape-rendering="crispEdges">
<path d="M326.0,798.3 L329.9,804.6 L333.7,804.4 L337.6,796.0 L341.4,795.3 L345.3,794.0 L349.1,806.4 L353.0,796.7 L356.8,812.0 L360.7,807.8 L364.5,813.9 L368.4,813.7 L372.2,799.2 L376.1,807.7 L380.0,804.6 L383.8,812.8 L387.7,810.1 L391.5,802.9 L395.4,816.9 L399.2,813.1 L403.1,816.6 L406.9,825.6 L410.8,823.3 L414.6,831.4 L418.5,836.4 L422.4,844.0 L426.4,813.2 L432.4,824.2 L436.0,844.3 L439.5,860.4 L443.5,897.5 L446.1,960.8 L448.8,1023.6 L452.1,1098.4 L455.1,1150.6 L457.1,1188.8 L463.2,1207.8 L468.8,1173.7 L471.2,1143.6 L475.2,1079.9 L478.0,1023.6 L481.2,996.9 L485.1,964.8 L487.9,954.2 L491.7,934.7 L495.6,924.3 L499.4,928.0 L503.3,930.5 L507.1,929.2 L511.0,924.3 L514.9,924.5 L518.7,914.0 L522.6,904.0 L526.4,898.5 L530.3,888.9 L534.1,877.8 L538.0,866.1 L541.8,856.2 L545.7,848.0 L549.5,839.2 L553.4,838.6 L557.2,832.6 L561.1,840.3 L565.0,844.7 L568.8,859.4 L572.7,881.7 L576.5,910.6 L580.4,944.5 L585.4,1042.1 L588.7,1121.5 L592.7,1176.7 L595.7,1210.8 L601.7,1227.9 L606.7,1170.7 L610.8,1113.5 L614.3,1046.1 L618.9,1003.4 L622.8,969.9 L626.6,942.4 L630.5,919.4 L634.3,900.2 L638.2,883.1 L642.0,870.2 L645.9,861.5 L649.8,854.0 L653.6,845.9 L657.5,840.2 L661.3,833.4 L665.2,830.2 L669.0,827.8 L672.9,821.5 L676.7,822.4 L680.6,822.6 L684.4,826.3 L688.3,822.5 L692.1,824.3 L696.0,834.1 L699.9,830.8 L703.7,834.9 L707.6,845.7 L711.4,859.0 L715.3,874.7 L719.1,895.0 L723.0,923.6 L726.8,964.2 L730.7,1024.4 L734.5,1041.2 L738.4,1041.8 L742.2,1003.8 L746.1,964.5 L750.0,929.0 L753.8,900.1 L757.7,876.0 L761.5,860.1 L765.4,853.2 L769.2,847.2 L773.1,851.4 L776.9,860.1 L780.8,862.3 L784.6,860.2 L788.5,851.4 L792.4,852.0 L796.2,859.4 L800.1,860.8 L803.9,862.8 L807.8,862.4 L811.6,869.4 L814.7,897.9 L817.9,923.9 L821.9,942.3 L825.9,998.6 L829.7,1030.7 L833.5,1038.5 L837.9,1042.9 L842.1,1014.3 L845.3,978.6 L849.3,943.9 L853.1,885.7 L857.1,857.1 L861.7,839.3 L865.6,829.2 L869.4,829.3 L873.3,839.6 L877.1,834.5 L881.0,837.9 L884.9,823.7 L888.7,844.6 L892.6,829.2 L896.4,843.8 L900.3,834.7 L904.1,832.1 L908.0,845.5 L911.8,844.8 L915.7,848.8 L919.5,857.4 L923.4,866.3 L927.2,877.0 L931.1,887.8 L935.0,897.9 L938.8,907.1 L942.7,916.5 L946.5,922.6 L950.4,934.3 L954.2,958.2 L958.4,1045.2 L961.8,1121.1 L965.9,1203.8 L969.3,1224.9 L973.0,1226.0 L977.3,1208.8 L980.3,1160.6 L983.9,1074.7 L987.8,988.9 L991.8,923.6 L995.2,891.5 L998.4,873.4 L1000.5,860.5 L1004.3,847.5 L1008.2,843.2 L1012.0,852.8 L1015.9,851.0 L1019.8,860.2 L1023.6,864.3 L1027.5,873.0 L1031.3,884.2 L1035.2,893.3 L1039.0,902.4 L1042.9,905.8 L1046.7,908.1 L1050.6,907.5 L1054.4,909.3 L1058.3,908.6 L1062.1,905.1 L1066.0,899.6 L1069.9,897.3 L1073.7,888.9 L1077.6,895.8 L1081.4,912.2 L1085.3,936.4 L1089.1,973.2 L1093.2,1029.7 L1096.4,1079.9 L1099.8,1140.6 L1102.8,1179.7 L1107.8,1205.8 L1113.9,1183.7 L1116.9,1147.6 L1119.9,1088.4 L1123.3,1017.7 L1127.7,919.3 L1131.5,874.7 L1135.4,845.1 L1139.2,824.4 L1143.1,816.9 L1146.9,807.6 L1150.8,807.4 L1154.6,802.6 L1158.5,807.6 L1162.4,805.9 L1166.2,795.4 L1170.1,803.3 L1173.9,795.7 L1177.8,805.3 L1181.6,790.3 L1185.5,791.9 L1189.3,792.2 L1193.2,798.8 L1197.0,801.9 L1200.9,795.1 L1204.8,800.9 L1208.6,790.3 L1212.5,802.0 L1216.3,795.4 L1220.2,804.0 L1224.0,796.1 L1227.9,796.3 L1231.7,800.0 L1235.6,805.1 L1239.4,796.9 L1243.3,802.0 L1247.1,795.5 L1251.0,795.1" fill="none" stroke="#000" stroke-width="1"/>
<g><circle cx="326.0" cy="798.3" r="9"/><circle cx="329.9" cy="804.6" r="9"/><circle cx="333.7" cy="804.4" r="9"/><circle cx="337.6" cy="796.0" r="9"/><circle cx="341.4" cy="795.3" r="9"/><circle cx="345.3" cy="794.0" r="9"/><circle cx="349.1" cy="806.4" r="9"/><circle cx="353.0" cy="796.7" r="9"/><circle cx="356.8" cy="812.0" r="9"/><circle cx="360.7" cy="807.8" r="9"/><circle cx="364.5" cy="813.9" r="9"/><circle cx="368.4" cy="813.7" r="9"/><circle cx="372.2" cy="799.2" r="9"/><circle cx="376.1" cy="807.7" r="9"/><circle cx="380.0" cy="804.6" r="9"/><circle cx="383.8" cy="812.8" r="9"/><circle cx="387.7" cy="810.1" r="9"/><circle cx="391.5" cy="802.9" r="9"/><circle cx="395.4" cy="816.9" r="9"/><circle cx="399.2" cy="813.1" r="9"/><circle cx="403.1" cy="816.6" r="9"/><circle cx="406.9" cy="825.6" r="9"/><circle cx="410.8" cy="823.3" r="9"/><circle cx="414.6" cy="831.4" r="9"/><circle cx="418.5" cy="836.4" r="9"/><circle cx="422.4" cy="844.0" r="9"/><circle cx="426.4" cy="813.2" r="9"/><circle cx="432.4" cy="824.2" r="9"/><circle cx="436.0" cy="844.3" r="9"/><circle cx="439.5" cy="860.4" r="9"/><circle cx="443.5" cy="897.5" r="9"/><circle cx="446.1" cy="960.8" r="9"/><circle cx="448.8" cy="1023.6" r="9"/><circle cx="452.1" cy="1098.4" r="9"/><circle cx="455.1" cy="1150.6" r="9"/><circle cx="457.1" cy="1188.8" r="9"/><circle cx="463.2" cy="1207.8" r="9"/><circle cx="468.8" cy="1173.7" r="9"/><circle cx="471.2" cy="1143.6" r="9"/><circle cx="475.2" cy="1079.9" r="9"/><circle cx="478.0" cy="1023.6" r="9"/><circle cx="481.2" cy="996.9" r="9"/><circle cx="485.1" cy="964.8" r="9"/><circle cx="487.9" cy="954.2" r="9"/><circle cx="491.7" cy="934.7" r="9"/><circle cx="495.6" cy="924.3" r="9"/><circle cx="499.4" cy="928.0" r="9"/><circle cx="503.3" cy="930.5" r="9"/><circle cx="507.1" cy="929.2" r="9"/><circle cx="511.0" cy="924.3" r="9"/><circle cx="514.9" cy="924.5" r="9"/><circle cx="518.7" cy="914.0" r="9"/><circle cx="522.6" cy="904.0" r="9"/><circle cx="526.4" cy="898.5" r="9"/><circle cx="530.3" cy="888.9" r="9"/><circle cx="534.1" cy="877.8" r="9"/><circle cx="538.0" cy="866.1" r="9"/><circle cx="541.8" cy="856.2" r="9"/><circle cx="545.7" cy="848.0" r="9"/><circle cx="549.5" cy="839.2" r="9"/><circle cx="553.4" cy="838.6" r="9"/><circle cx="557.2" cy="832.6" r="9"/><circle cx="561.1" cy="840.3" r="9"/><circle cx="565.0" cy="844.7" r="9"/><circle cx="568.8" cy="859.4" r="9"/><circle cx="572.7" cy="881.7" r="9"/><circle cx="576.5" cy="910.6" r="9"/><circle cx="580.4" cy="944.5" r="9"/><circle cx="585.4" cy="1042.1" r="9"/><circle cx="588.7" cy="1121.5" r="9"/><circle cx="592.7" cy="1176.7" r="9"/><circle cx="595.7" cy="1210.8" r="9"/><circle cx="601.7" cy="1227.9" r="9"/><circle cx="606.7" cy="1170.7" r="9"/><circle cx="610.8" cy="1113.5" r="9"/><circle cx="614.3" cy="1046.1" r="9"/><circle cx="618.9" cy="1003.4" r="9"/><circle cx="622.8" cy="969.9" r="9"/><circle cx="626.6" cy="942.4" r="9"/><circle cx="630.5" cy="919.4" r="9"/><circle cx="634.3" cy="900.2" r="9"/><circle cx="638.2" cy="883.1" r="9"/><circle cx="642.0" cy="870.2" r="9"/><circle cx="645.9" cy="861.5" r="9"/><circle cx="649.8" cy="854.0" r="9"/><circle cx="653.6" cy="845.9" r="9"/><circle cx="657.5" cy="840.2" r="9"/><circle cx="661.3" cy="833.4" r="9"/><circle cx="665.2" cy="830.2" r="9"/><circle cx="669.0" cy="827.8" r="9"/><circle cx="672.9" cy="821.5" r="9"/><circle cx="676.7" cy="822.4" r="9"/><circle cx="680.6" cy="822.6" r="9"/><circle cx="684.4" cy="826.3" r="9"/><circle cx="688.3" cy="822.5" r="9"/><circle cx="692.1" cy="824.3" r="9"/><circle cx="696.0" cy="834.1" r="9"/><circle cx="699.9" cy="830.8" r="9"/><circle cx="703.7" cy="834.9" r="9"/><circle cx="707.6" cy="845.7" r="9"/><circle cx="711.4" cy="859.0" r="9"/><circle cx="715.3" cy="874.7" r="9"/><circle cx="719.1" cy="895.0" r="9"/><circle cx="723.0" cy="923.6" r="9"/><circle cx="726.8" cy="964.2" r="9"/><circle cx="730.7" cy="1024.4" r="9"/><circle cx="734.5" cy="1041.2" r="9"/><circle cx="738.4" cy="1041.8" r="9"/><circle cx="742.2" cy="1003.8" r="9"/><circle cx="746.1" cy="964.5" r="9"/><circle cx="750.0" cy="929.0" r="9"/><circle cx="753.8" cy="900.1" r="9"/><circle cx="757.7" cy="876.0" r="9"/><circle cx="761.5" cy="860.1" r="9"/><circle cx="765.4" cy="853.2" r="9"/><circle cx="769.2" cy="847.2" r="9"/><circle cx="773.1" cy="851.4" r="9"/><circle cx="776.9" cy="860.1" r="9"/><circle cx="780.8" cy="862.3" r="9"/><circle cx="784.6" cy="860.2" r="9"/><circle cx="788.5" cy="851.4" r="9"/><circle cx="792.4" cy="852.0" r="9"/><circle cx="796.2" cy="859.4" r="9"/><circle cx="800.1" cy="860.8" r="9"/><circle cx="803.9" cy="862.8" r="9"/><circle cx="807.8" cy="862.4" r="9"/><circle cx="811.6" cy="869.4" r="9"/><circle cx="814.7" cy="897.9" r="9"/><circle cx="817.9" cy="923.9" r="9"/><circle cx="821.9" cy="942.3" r="9"/><circle cx="825.9" cy="998.6" r="9"/><circle cx="829.7" cy="1030.7" r="9"/><circle cx="833.5" cy="1038.5" r="9"/><circle cx="837.9" cy="1042.9" r="9"/><circle cx="842.1" cy="1014.3" r="9"/><circle cx="845.3" cy="978.6" r="9"/><circle cx="849.3" cy="943.9" r="9"/><circle cx="853.1" cy="885.7" r="9"/><circle cx="857.1" cy="857.1" r="9"/><circle cx="861.7" cy="839.3" r="9"/><circle cx="865.6" cy="829.2" r="9"/><circle cx="869.4" cy="829.3" r="9"/><circle cx="873.3" cy="839.6" r="9"/><circle cx="877.1" cy="834.5" r="9"/><circle cx="881.0" cy="837.9" r="9"/><circle cx="884.9" cy="823.7" r="9"/><circle cx="888.7" cy="844.6" r="9"/><circle cx="892.6" cy="829.2" r="9"/><circle cx="896.4" cy="843.8" r="9"/><circle cx="900.3" cy="834.7" r="9"/><circle cx="904.1" cy="832.1" r="9"/><circle cx="908.0" cy="845.5" r="9"/><circle cx="911.8" cy="844.8" r="9"/><circle cx="915.7" cy="848.8" r="9"/><circle cx="919.5" cy="857.4" r="9"/><circle cx="923.4" cy="866.3" r="9"/><circle cx="927.2" cy="877.0" r="9"/><circle cx="931.1" cy="887.8" r="9"/><circle cx="935.0" cy="897.9" r="9"/><circle cx="938.8" cy="907.1" r="9"/><circle cx="942.7" cy="916.5" r="9"/><circle cx="946.5" cy="922.6" r="9"/><circle cx="950.4" cy="934.3" r="9"/><circle cx="954.2" cy="958.2" r="9"/><circle cx="958.4" cy="1045.2" r="9"/><circle cx="961.8" cy="1121.1" r="9"/><circle cx="965.9" cy="1203.8" r="9"/><circle cx="969.3" cy="1224.9" r="9"/><circle cx="973.0" cy="1226.0" r="9"/><circle cx="977.3" cy="1208.8" r="9"/><circle cx="980.3" cy="1160.6" r="9"/><circle cx="983.9" cy="1074.7" r="9"/><circle cx="987.8" cy="988.9" r="9"/><circle cx="991.8" cy="923.6" r="9"/><circle cx="995.2" cy="891.5" r="9"/><circle cx="998.4" cy="873.4" r="9"/><circle cx="1000.5" cy="860.5" r="9"/><circle cx="1004.3" cy="847.5" r="9"/><circle cx="1008.2" cy="843.2" r="9"/><circle cx="1012.0" cy="852.8" r="9"/><circle cx="1015.9" cy="851.0" r="9"/><circle cx="1019.8" cy="860.2" r="9"/><circle cx="1023.6" cy="864.3" r="9"/><circle cx="1027.5" cy="873.0" r="9"/><circle cx="1031.3" cy="884.2" r="9"/><circle cx="1035.2" cy="893.3" r="9"/><circle cx="1039.0" cy="902.4" r="9"/><circle cx="1042.9" cy="905.8" r="9"/><circle cx="1046.7" cy="908.1" r="9"/><circle cx="1050.6" cy="907.5" r="9"/><circle cx="1054.4" cy="909.3" r="9"/><circle cx="1058.3" cy="908.6" r="9"/><circle cx="1062.1" cy="905.1" r="9"/><circle cx="1066.0" cy="899.6" r="9"/><circle cx="1069.9" cy="897.3" r="9"/><circle cx="1073.7" cy="888.9" r="9"/><circle cx="1077.6" cy="895.8" r="9"/><circle cx="1081.4" cy="912.2" r="9"/><circle cx="1085.3" cy="936.4" r="9"/><circle cx="1089.1" cy="973.2" r="9"/><circle cx="1093.2" cy="1029.7" r="9"/><circle cx="1096.4" cy="1079.9" r="9"/><circle cx="1099.8" cy="1140.6" r="9"/><circle cx="1102.8" cy="1179.7" r="9"/><circle cx="1107.8" cy="1205.8" r="9"/><circle cx="1113.9" cy="1183.7" r="9"/><circle cx="1116.9" cy="1147.6" r="9"/><circle cx="1119.9" cy="1088.4" r="9"/><circle cx="1123.3" cy="1017.7" r="9"/><circle cx="1127.7" cy="919.3" r="9"/><circle cx="1131.5" cy="874.7" r="9"/><circle cx="1135.4" cy="845.1" r="9"/><circle cx="1139.2" cy="824.4" r="9"/><circle cx="1143.1" cy="816.9" r="9"/><circle cx="1146.9" cy="807.6" r="9"/><circle cx="1150.8" cy="807.4" r="9"/><circle cx="1154.6" cy="802.6" r="9"/><circle cx="1158.5" cy="807.6" r="9"/><circle cx="1162.4" cy="805.9" r="9"/><circle cx="1166.2" cy="795.4" r="9"/><circle cx="1170.1" cy="803.3" r="9"/><circle cx="1173.9" cy="795.7" r="9"/><circle cx="1177.8" cy="805.3" r="9"/><circle cx="1181.6" cy="790.3" r="9"/><circle cx="1185.5" cy="791.9" r="9"/><circle cx="1189.3" cy="792.2" r="9"/><circle cx="1193.2" cy="798.8" r="9"/><circle cx="1197.0" cy="801.9" r="9"/><circle cx="1200.9" cy="795.1" r="9"/><circle cx="1204.8" cy="800.9" r="9"/><circle cx="1208.6" cy="790.3" r="9"/><circle cx="1212.5" cy="802.0" r="9"/><circle cx="1216.3" cy="795.4" r="9"/><circle cx="1220.2" cy="804.0" r="9"/><circle cx="1224.0" cy="796.1" r="9"/><circle cx="1227.9" cy="796.3" r="9"/><circle cx="1231.7" cy="800.0" r="9"/><circle cx="1235.6" cy="805.1" r="9"/><circle cx="1239.4" cy="796.9" r="9"/><circle cx="1243.3" cy="802.0" r="9"/><circle cx="1247.1" cy="795.5" r="9"/><circle cx="1251.0" cy="795.1" r="9"/></g>
<path d="M325.0,817.2 L326.0,817.3 L327.0,817.4 L328.0,817.5 L329.0,817.6 L330.0,817.7 L331.0,817.8 L332.0,817.9 L333.0,818.0 L334.0,818.1 L335.0,818.2 L336.0,818.3 L337.0,818.5 L338.0,818.6 L339.0,818.7 L340.0,818.8 L341.0,819.0 L342.0,819.1 L343.0,819.2 L344.0,819.3 L345.0,819.5 L346.0,819.6 L347.0,819.8 L348.0,819.9 L349.0,820.0 L350.0,820.2 L350.1,820.2 L351.0,820.3 L352.0,820.5 L353.0,820.6 L354.0,820.8 L355.0,820.9 L356.0,821.1 L357.0,821.3 L358.0,821.4 L359.0,821.6 L360.0,821.8 L361.0,822.0 L362.0,822.2 L363.0,822.3 L364.0,822.5 L365.0,822.7 L366.0,822.9 L367.0,823.1 L368.0,823.3 L369.0,823.5 L370.0,823.8 L370.2,823.8 L371.0,824.0 L372.0,824.2 L373.0,824.4 L374.0,824.7 L375.0,824.9 L376.0,825.2 L377.0,825.4 L378.0,825.7 L379.0,826.0 L380.0,826.2 L381.0,826.5 L382.0,826.8 L383.0,827.1 L384.0,827.4 L385.0,827.8 L386.0,828.1 L386.3,828.2 L387.0,828.4 L388.0,828.8 L389.0,829.1 L390.0,829.5 L391.0,829.9 L392.0,830.2 L393.0,830.6 L394.0,831.1 L395.0,831.5 L396.0,832.0 L397.0,832.5 L398.0,833.0 L399.0,833.5 L400.0,834.1 L400.3,834.3 L401.0,834.8 L402.0,835.5 L403.0,836.3 L404.0,837.3 L405.0,838.3 L406.0,839.3 L407.0,840.4 L408.0,841.5 L409.0,842.7 L410.0,843.8 L410.4,844.3 L411.0,845.0 L412.0,846.2 L413.0,847.4 L414.0,848.7 L415.0,850.0 L416.0,851.4 L417.0,852.8 L418.0,854.3 L419.0,856.0 L420.0,857.7 L420.4,858.4 L421.0,859.5 L422.0,861.6 L423.0,863.8 L424.0,866.1 L425.0,868.7 L426.0,871.4 L427.0,874.2 L428.0,877.2 L428.4,878.4 L429.0,880.3 L430.0,883.7 L431.0,887.4 L432.0,891.3 L433.0,895.6 L434.0,900.1 L434.5,902.5 L435.0,905.0 L436.0,910.5 L437.0,916.6 L438.0,923.2 L438.5,926.6 L439.0,930.1 L440.0,937.6 L441.0,945.6 L442.0,954.3 L442.5,958.8 L443.0,963.5 L444.0,973.6 L445.0,984.8 L445.5,990.9 L446.0,997.7 L447.0,1013.0 L447.5,1021.0 L448.0,1029.1 L449.0,1045.8 L450.0,1063.2 L450.1,1065.0 L451.0,1082.3 L452.0,1102.3 L453.0,1119.1 L453.1,1120.5 L454.0,1131.5 L455.0,1142.1 L456.0,1151.5 L457.0,1160.2 L458.0,1168.9 L458.2,1170.7 L459.0,1178.6 L460.0,1189.5 L461.0,1199.5 L462.0,1206.5 L462.8,1208.5 L463.0,1208.4 L464.0,1203.9 L465.0,1195.0 L466.0,1183.8 L467.0,1172.7 L467.2,1170.7 L468.0,1162.2 L469.0,1150.4 L470.0,1137.8 L471.0,1125.1 L472.0,1113.1 L473.0,1102.3 L473.2,1100.4 L474.0,1093.4 L475.0,1085.7 L476.0,1078.3 L477.0,1070.4 L477.6,1065.0 L478.0,1061.0 L479.0,1049.6 L480.0,1037.6 L480.6,1031.0 L481.0,1026.9 L482.0,1017.1 L483.0,1007.7 L483.7,1000.9 L484.0,997.9 L485.0,987.3 L486.0,977.0 L486.7,970.8 L487.0,968.4 L488.0,961.0 L489.0,954.5 L489.7,950.7 L490.0,949.2 L491.0,944.7 L492.0,940.9 L492.7,938.7 L493.0,937.8 L494.0,935.0 L495.0,932.5 L496.0,930.6 L496.7,929.6 L497.0,929.3 L498.0,928.3 L499.0,927.6 L500.0,926.9 L501.0,926.3 L502.0,925.9 L502.7,925.6 L503.0,925.5 L504.0,925.2 L505.0,924.9 L506.0,924.7 L507.0,924.5 L508.0,924.3 L509.0,924.1 L510.0,923.9 L510.8,923.6 L511.0,923.5 L512.0,923.1 L513.0,922.6 L514.0,922.1 L515.0,921.5 L516.0,920.8 L517.0,920.1 L518.0,919.3 L518.8,918.6 L519.0,918.4 L520.0,917.4 L521.0,916.2 L522.0,914.8 L523.0,913.3 L524.0,911.8 L524.8,910.6 L525.0,910.3 L526.0,908.8 L527.0,907.1 L528.0,905.5 L529.0,903.7 L530.0,901.9 L530.8,900.5 L531.0,900.1 L532.0,898.3 L533.0,896.3 L534.0,894.3 L535.0,892.3 L536.0,890.3 L536.9,888.5 L537.0,888.3 L538.0,886.3 L539.0,884.2 L540.0,882.1 L541.0,880.1 L542.0,878.1 L542.9,876.4 L543.0,876.2 L544.0,874.3 L545.0,872.4 L546.0,870.6 L547.0,868.9 L548.0,867.4 L548.9,866.4 L549.0,866.3 L550.0,865.3 L551.0,864.4 L552.0,863.6 L553.0,863.0 L554.0,862.5 L554.9,862.4 L555.0,862.4 L556.0,862.5 L557.0,862.9 L558.0,863.3 L559.0,864.0 L560.0,864.7 L561.0,865.4 L562.0,866.4 L563.0,867.7 L564.0,869.4 L565.0,871.2 L566.0,873.3 L566.5,874.4 L567.0,875.6 L568.0,878.2 L569.0,881.3 L570.0,884.7 L571.0,888.5 L572.0,892.5 L573.0,897.0 L574.0,902.1 L575.0,907.7 L576.0,913.7 L577.0,920.0 L577.1,920.6 L578.0,926.6 L579.0,933.8 L580.0,941.5 L581.0,949.8 L581.1,950.7 L582.0,958.9 L583.0,968.9 L584.0,979.7 L584.1,980.8 L585.0,991.1 L586.0,1003.7 L586.5,1011.0 L587.0,1019.7 L588.0,1039.3 L588.1,1041.1 L589.0,1055.9 L589.5,1065.0 L590.0,1076.6 L591.0,1104.0 L591.7,1120.5 L592.0,1126.1 L593.0,1142.3 L594.0,1156.2 L595.0,1170.0 L595.7,1180.7 L596.0,1186.0 L597.0,1208.1 L598.0,1230.1 L599.0,1243.1 L599.3,1244.0 L600.0,1241.0 L601.0,1228.5 L602.0,1210.6 L603.0,1191.8 L603.7,1180.7 L604.0,1176.5 L605.0,1162.5 L606.0,1148.4 L607.0,1134.6 L608.0,1121.4 L609.0,1109.2 L609.8,1100.4 L610.0,1098.4 L611.0,1089.4 L612.0,1081.5 L613.0,1073.0 L613.8,1065.0 L614.0,1062.6 L615.0,1048.2 L616.0,1033.5 L616.2,1031.0 L617.0,1022.1 L618.0,1012.0 L619.0,1002.7 L619.2,1000.9 L620.0,993.7 L621.0,985.0 L622.0,976.8 L623.0,969.0 L623.3,966.8 L624.0,961.8 L625.0,955.0 L626.0,948.5 L627.0,942.4 L628.0,936.4 L628.3,934.7 L629.0,930.7 L630.0,925.2 L631.0,919.9 L632.0,914.8 L633.0,910.0 L633.3,908.6 L634.0,905.5 L635.0,901.1 L636.0,897.0 L637.0,893.0 L638.0,889.2 L639.0,885.6 L639.3,884.5 L640.0,882.0 L641.0,878.6 L642.0,875.2 L643.0,872.0 L644.0,868.9 L645.0,866.0 L646.0,863.2 L646.3,862.4 L647.0,860.6 L648.0,858.0 L649.0,855.6 L650.0,853.2 L651.0,851.0 L652.0,848.8 L653.0,846.8 L654.0,845.0 L654.4,844.3 L655.0,843.3 L656.0,841.6 L657.0,840.0 L658.0,838.4 L659.0,837.0 L660.0,835.7 L661.0,834.6 L662.0,833.6 L662.4,833.3 L663.0,832.9 L664.0,832.1 L665.0,831.4 L666.0,830.8 L667.0,830.2 L668.0,829.7 L669.0,829.2 L670.0,828.8 L671.0,828.5 L672.0,828.3 L672.4,828.2 L673.0,828.1 L674.0,828.0 L675.0,827.8 L676.0,827.7 L677.0,827.6 L678.0,827.5 L679.0,827.4 L680.0,827.4 L681.0,827.3 L682.0,827.3 L683.0,827.2 L684.0,827.2 L684.5,827.2 L685.0,827.2 L686.0,827.3 L687.0,827.5 L688.0,827.8 L689.0,828.1 L690.0,828.5 L691.0,829.0 L692.0,829.5 L693.0,830.1 L694.0,830.7 L695.0,831.3 L696.0,831.9 L696.5,832.2 L697.0,832.5 L698.0,833.3 L699.0,834.2 L700.0,835.2 L701.0,836.4 L702.0,837.6 L703.0,838.9 L704.0,840.3 L705.0,841.8 L706.0,843.4 L706.6,844.3 L707.0,844.9 L708.0,846.7 L709.0,848.6 L710.0,850.7 L711.0,852.9 L712.0,855.3 L713.0,857.9 L714.0,860.7 L714.6,862.4 L715.0,863.6 L716.0,866.9 L717.0,870.6 L718.0,874.7 L719.0,879.0 L720.0,883.6 L720.6,886.5 L721.0,888.5 L722.0,893.7 L723.0,899.4 L724.0,905.8 L724.7,910.6 L725.0,912.8 L726.0,920.9 L727.0,930.0 L728.0,939.7 L728.7,946.7 L729.0,949.8 L730.0,960.4 L731.0,972.0 L731.7,980.8 L732.0,984.8 L733.0,999.4 L733.7,1011.0 L734.0,1017.5 L735.0,1038.8 L735.1,1039.1 L736.0,1033.5 L737.0,1019.9 L737.7,1011.0 L738.0,1007.9 L739.0,997.8 L740.0,987.8 L740.7,980.8 L741.0,977.8 L742.0,967.6 L743.0,957.5 L743.7,950.7 L744.0,947.9 L745.0,938.6 L746.0,929.6 L747.0,921.1 L747.8,914.6 L748.0,913.0 L749.0,905.5 L750.0,898.2 L751.0,891.5 L751.8,886.5 L752.0,885.3 L753.0,879.3 L754.0,873.6 L755.0,868.3 L756.0,863.6 L756.8,860.4 L757.0,859.7 L758.0,856.3 L759.0,853.2 L760.0,850.4 L761.0,848.0 L762.0,845.8 L762.8,844.3 L763.0,844.0 L764.0,842.3 L765.0,840.6 L766.0,839.1 L767.0,837.7 L768.0,836.5 L769.0,835.5 L770.0,834.7 L770.8,834.3 L771.0,834.2 L772.0,833.8 L773.0,833.4 L774.0,833.0 L775.0,832.6 L776.0,832.3 L777.0,832.0 L778.0,831.8 L779.0,831.6 L780.0,831.4 L781.0,831.3 L782.0,831.2 L782.9,831.2 L783.0,831.2 L784.0,831.2 L785.0,831.4 L786.0,831.6 L787.0,831.8 L788.0,832.1 L789.0,832.5 L790.0,832.9 L791.0,833.3 L792.0,833.8 L793.0,834.3 L794.0,834.8 L794.9,835.3 L795.0,835.4 L796.0,836.0 L797.0,836.7 L798.0,837.6 L799.0,838.6 L800.0,839.7 L801.0,840.9 L802.0,842.2 L803.0,843.5 L804.0,844.9 L805.0,846.3 L806.0,847.8 L807.0,849.5 L808.0,851.3 L809.0,853.3 L810.0,855.4 L811.0,857.6 L812.0,859.9 L813.0,862.4 L814.0,865.0 L815.0,867.7 L816.0,870.7 L817.0,874.0 L818.0,877.8 L819.0,882.0 L820.0,887.2 L821.0,893.6 L822.0,901.0 L823.0,908.9 L824.0,917.2 L824.1,918.0 L825.0,926.1 L826.0,936.2 L827.0,946.7 L828.0,957.0 L828.1,958.0 L829.0,966.9 L830.0,976.6 L831.0,986.3 L832.0,995.9 L832.1,996.9 L833.0,1005.8 L834.0,1015.7 L835.0,1024.3 L835.1,1025.0 L836.0,1032.1 L837.0,1037.0 L837.1,1037.1 L838.0,1035.3 L839.0,1029.8 L840.0,1022.1 L841.0,1013.5 L841.3,1011.0 L842.0,1004.2 L843.0,991.8 L844.0,978.3 L844.9,966.8 L845.0,965.6 L846.0,953.7 L847.0,942.0 L848.0,930.8 L848.4,926.6 L849.0,920.4 L850.0,910.3 L851.0,900.8 L852.0,892.1 L852.2,890.5 L853.0,884.2 L854.0,876.8 L855.0,870.1 L856.0,864.4 L857.0,859.5 L858.0,855.0 L859.0,851.0 L860.0,847.5 L861.0,844.8 L861.2,844.3 L862.0,842.6 L863.0,840.6 L864.0,838.8 L865.0,837.2 L866.0,835.8 L867.0,834.6 L868.0,833.7 L868.6,833.3 L869.0,833.1 L870.0,832.5 L871.0,831.9 L872.0,831.4 L873.0,830.9 L874.0,830.5 L875.0,830.1 L876.0,829.9 L877.0,829.7 L878.0,829.6 L878.3,829.6 L879.0,829.6 L880.0,829.6 L881.0,829.6 L882.0,829.7 L883.0,829.7 L884.0,829.8 L885.0,829.9 L886.0,830.0 L887.0,830.1 L888.0,830.2 L888.4,830.2 L889.0,830.3 L890.0,830.5 L891.0,830.9 L892.0,831.3 L893.0,831.8 L894.0,832.4 L895.0,833.0 L896.0,833.6 L897.0,834.3 L898.0,835.0 L898.4,835.3 L899.0,835.7 L900.0,836.5 L901.0,837.5 L902.0,838.5 L903.0,839.5 L904.0,840.7 L905.0,841.9 L906.0,843.1 L907.0,844.4 L908.0,845.8 L908.4,846.3 L909.0,847.1 L910.0,848.6 L911.0,850.1 L912.0,851.8 L913.0,853.5 L914.0,855.4 L915.0,857.3 L916.0,859.3 L916.5,860.4 L917.0,861.5 L918.0,863.9 L919.0,866.5 L920.0,869.3 L921.0,872.2 L922.0,875.1 L923.0,878.1 L924.0,881.1 L924.5,882.5 L925.0,884.0 L926.0,886.9 L927.0,890.0 L928.0,893.1 L929.0,896.2 L930.0,899.3 L931.0,902.3 L932.0,905.1 L932.5,906.5 L933.0,907.9 L934.0,910.5 L935.0,913.1 L936.0,915.7 L937.0,918.2 L938.0,920.6 L939.0,923.0 L940.0,925.3 L940.6,926.6 L941.0,927.5 L942.0,929.5 L943.0,931.3 L944.0,933.1 L945.0,935.0 L946.0,937.0 L947.0,939.2 L947.6,940.7 L948.0,941.8 L949.0,944.8 L950.0,948.3 L951.0,952.2 L951.6,954.7 L952.0,956.5 L953.0,961.4 L954.0,966.9 L955.0,972.9 L955.6,976.8 L956.0,979.5 L957.0,986.9 L958.0,995.3 L958.6,1000.9 L959.0,1005.0 L960.0,1017.0 L960.6,1025.0 L961.0,1030.6 L962.0,1046.1 L963.0,1063.2 L963.1,1065.0 L964.0,1082.2 L965.0,1103.1 L966.0,1125.0 L967.0,1148.6 L968.0,1173.0 L968.8,1190.8 L969.0,1195.0 L970.0,1218.5 L971.0,1241.2 L972.0,1257.1 L972.7,1261.0 L973.0,1260.4 L974.0,1250.7 L975.0,1233.9 L976.0,1215.7 L976.3,1210.8 L977.0,1199.7 L978.0,1183.0 L979.0,1165.3 L980.0,1146.5 L980.3,1140.6 L981.0,1125.8 L982.0,1102.5 L983.0,1079.5 L983.7,1065.0 L984.0,1059.5 L985.0,1042.9 L985.7,1031.0 L986.0,1025.4 L987.0,1005.7 L987.8,990.9 L988.0,987.6 L989.0,972.5 L989.8,960.8 L990.0,957.7 L991.0,941.9 L991.8,930.6 L992.0,928.2 L993.0,917.2 L994.0,907.5 L994.8,900.5 L995.0,898.8 L996.0,890.6 L997.0,883.2 L997.8,878.4 L998.0,877.4 L999.0,872.4 L1000.0,868.1 L1001.0,864.6 L1001.8,862.4 L1002.0,861.9 L1003.0,859.7 L1004.0,857.8 L1005.0,856.1 L1006.0,854.9 L1006.8,854.3 L1007.0,854.2 L1008.0,853.7 L1009.0,853.2 L1010.0,852.8 L1011.0,852.5 L1012.0,852.4 L1012.9,852.3 L1013.0,852.3 L1014.0,852.5 L1015.0,853.0 L1016.0,853.7 L1017.0,854.5 L1018.0,855.4 L1018.9,856.3 L1019.0,856.4 L1020.0,857.6 L1021.0,859.1 L1022.0,860.8 L1023.0,862.7 L1024.0,864.6 L1024.9,866.4 L1025.0,866.6 L1026.0,868.7 L1027.0,871.0 L1028.0,873.4 L1029.0,875.8 L1030.0,878.3 L1030.9,880.4 L1031.0,880.6 L1032.0,883.0 L1033.0,885.5 L1034.0,888.0 L1035.0,890.4 L1036.0,892.7 L1036.9,894.5 L1037.0,894.7 L1038.0,896.6 L1039.0,898.4 L1040.0,900.1 L1041.0,901.7 L1042.0,903.2 L1043.0,904.5 L1044.0,905.7 L1045.0,906.9 L1046.0,908.0 L1047.0,909.0 L1048.0,909.9 L1049.0,910.5 L1050.0,911.0 L1051.0,911.5 L1052.0,911.9 L1053.0,912.3 L1054.0,912.5 L1055.0,912.6 L1055.1,912.6 L1056.0,912.5 L1057.0,912.2 L1058.0,911.7 L1059.0,911.2 L1060.0,910.5 L1061.0,909.9 L1062.0,909.2 L1063.0,908.7 L1063.1,908.6 L1064.0,908.1 L1065.0,907.5 L1066.0,906.8 L1067.0,906.1 L1068.0,905.5 L1069.0,905.0 L1070.0,904.6 L1071.0,904.5 L1071.1,904.5 L1072.0,904.6 L1073.0,905.0 L1074.0,905.6 L1075.0,906.4 L1076.0,907.3 L1077.0,908.4 L1077.2,908.6 L1078.0,909.8 L1079.0,911.9 L1080.0,914.8 L1081.0,918.1 L1082.0,921.8 L1082.2,922.6 L1083.0,926.1 L1084.0,931.7 L1085.0,938.1 L1086.0,945.2 L1086.2,946.7 L1087.0,953.1 L1088.0,962.4 L1089.0,972.7 L1089.2,974.8 L1090.0,984.0 L1091.0,996.8 L1091.6,1004.9 L1092.0,1010.5 L1093.0,1025.3 L1093.6,1035.0 L1094.0,1042.1 L1095.0,1061.3 L1095.2,1065.0 L1096.0,1079.7 L1097.0,1097.6 L1097.8,1110.4 L1098.0,1113.3 L1099.0,1127.3 L1100.0,1140.2 L1101.0,1152.0 L1101.8,1160.6 L1102.0,1162.7 L1103.0,1174.2 L1104.0,1185.6 L1105.0,1195.0 L1106.0,1200.3 L1106.4,1200.8 L1107.0,1199.5 L1108.0,1192.5 L1109.0,1181.7 L1110.0,1169.6 L1110.8,1160.6 L1111.0,1158.5 L1112.0,1147.3 L1113.0,1135.3 L1114.0,1122.9 L1115.0,1110.7 L1115.9,1100.4 L1116.0,1099.3 L1117.0,1089.3 L1118.0,1079.7 L1119.0,1068.8 L1119.3,1065.0 L1120.0,1054.4 L1121.0,1036.5 L1121.3,1031.0 L1122.0,1017.8 L1123.0,998.3 L1123.4,990.9 L1124.0,980.3 L1125.0,963.4 L1125.8,950.7 L1126.0,947.7 L1127.0,933.1 L1128.0,919.6 L1128.4,914.6 L1129.0,907.4 L1130.0,896.1 L1131.0,886.1 L1131.4,882.5 L1132.0,877.5 L1133.0,869.7 L1134.0,862.8 L1135.0,856.6 L1135.4,854.3 L1136.0,851.1 L1137.0,845.9 L1138.0,841.2 L1139.0,837.0 L1140.0,833.4 L1140.4,832.2 L1141.0,830.5 L1142.0,827.8 L1143.0,825.3 L1144.0,823.0 L1145.0,821.0 L1146.0,819.3 L1147.0,817.7 L1147.4,817.2 L1148.0,816.4 L1149.0,815.2 L1150.0,814.1 L1151.0,813.1 L1152.0,812.1 L1153.0,811.3 L1154.0,810.5 L1155.0,809.7 L1156.0,809.1 L1157.0,808.5 L1157.5,808.2 L1158.0,807.9 L1159.0,807.4 L1160.0,806.9 L1161.0,806.5 L1162.0,806.1 L1163.0,805.6 L1164.0,805.3 L1165.0,804.9 L1166.0,804.5 L1167.0,804.2 L1168.0,803.9 L1169.0,803.7 L1170.0,803.4 L1171.0,803.2 L1171.5,803.1 L1172.0,803.0 L1173.0,802.8 L1174.0,802.6 L1175.0,802.5 L1176.0,802.3 L1177.0,802.1 L1178.0,802.0 L1179.0,801.8 L1180.0,801.7 L1181.0,801.5 L1182.0,801.4 L1183.0,801.3 L1184.0,801.1 L1185.0,801.0 L1186.0,800.9 L1187.0,800.8 L1188.0,800.8 L1189.0,800.7 L1190.0,800.6 L1191.0,800.5 L1191.6,800.5 L1192.0,800.5 L1193.0,800.4 L1194.0,800.4 L1195.0,800.3 L1196.0,800.3 L1197.0,800.2 L1198.0,800.2 L1199.0,800.1 L1200.0,800.1 L1201.0,800.0 L1202.0,800.0 L1203.0,799.9 L1204.0,799.9 L1205.0,799.9 L1206.0,799.8 L1207.0,799.8 L1208.0,799.8 L1209.0,799.8 L1210.0,799.7 L1211.0,799.7 L1212.0,799.7 L1213.0,799.7 L1214.0,799.7" fill="none" stroke="#ff0000" stroke-width="7.5" stroke-linejoin="round" stroke-linecap="round"/>
</g>
<rect x="865" y="17.5" width="388" height="99.5" fill="#fff" stroke="#000" stroke-width="2"/>
<rect x="864" y="664.5" width="409.5" height="98.5" fill="#fff" stroke="#000" stroke-width="2"/>
<text x="871" y="95" font-size="79" text-anchor="start" textLength="363" lengthAdjust="spacingAndGlyphs">D ~ 27 nm</text>
<text x="870" y="741" font-size="79" text-anchor="start" textLength="385.2" lengthAdjust="spacingAndGlyphs">D ~ 6.0 nm</text>
<text x="299.7" y="136.4" font-size="59.5" text-anchor="end" textLength="185.8" lengthAdjust="spacingAndGlyphs">24,000</text>
<text x="299.7" y="309.4" font-size="59.5" text-anchor="end" textLength="185.8" lengthAdjust="spacingAndGlyphs">20,000</text>
<text x="299.7" y="483.4" font-size="59.5" text-anchor="end" textLength="183.2" lengthAdjust="spacingAndGlyphs">16,000</text>
<text x="299.7" y="656.9" font-size="59.5" text-anchor="end" textLength="183.2" lengthAdjust="spacingAndGlyphs">12,000</text>
<text x="299.7" y="855.4" font-size="59.5" text-anchor="end" textLength="183.2" lengthAdjust="spacingAndGlyphs">18,000</text>
<text x="299.7" y="1043.4" font-size="59.5" text-anchor="end" textLength="183.2" lengthAdjust="spacingAndGlyphs">15,000</text>
<text x="299.7" y="1231.4" font-size="59.5" text-anchor="end" textLength="183.2" lengthAdjust="spacingAndGlyphs">12,000</text>
<text x="397.5" y="1353" font-size="60" text-anchor="middle" textLength="88.7" lengthAdjust="spacingAndGlyphs">-10</text>
<text x="584" y="1353" font-size="60" text-anchor="middle">-5</text>
<text x="769" y="1353" font-size="60" text-anchor="middle">0</text>
<text x="953.7" y="1353" font-size="60" text-anchor="middle">5</text>
<text x="1139.8" y="1353" font-size="60" text-anchor="middle">10</text>
<text x="787.5" y="1434" font-size="79" text-anchor="middle" textLength="537" lengthAdjust="spacingAndGlyphs">Velocity (mm/s)</text>
<text transform="translate(86,1134.5) rotate(-90)" font-size="79" textLength="939.5" lengthAdjust="spacingAndGlyphs">Reflected intensity (counts)</text>
</svg>
</body></html>
